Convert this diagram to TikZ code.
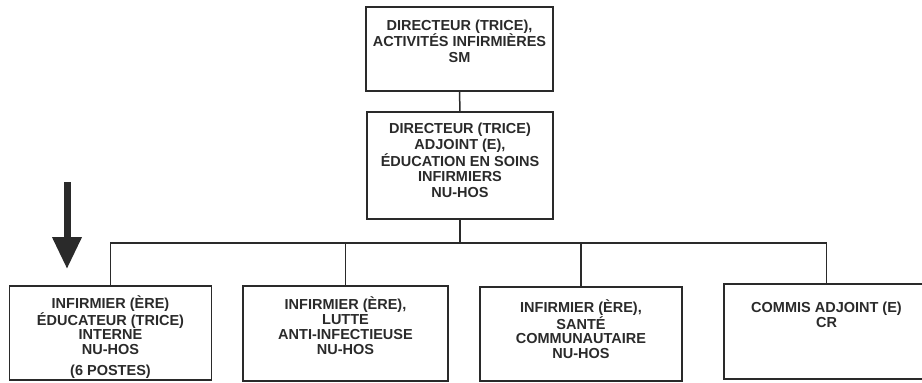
\documentclass[tikz,border=0pt]{standalone}
\usepackage{fontspec}
\setmainfont{Liberation Sans}
\usetikzlibrary{arrows.meta}
\definecolor{ink}{HTML}{2A2A2A}
\tikzset{
  box/.style={draw=ink, line width=1.5pt, rectangle, inner sep=0pt},
  txt/.style={anchor=north, align=center, inner sep=0pt, text=ink, font=\bfseries\fontsize{14.5}{#1}\selectfont},
  txt/.default=16,
  link/.style={draw=ink, line width=1.5pt},
}
\begin{document}
\begin{tikzpicture}[x=1pt,y=-1pt]
\useasboundingbox (0,0) rectangle (922,383);
% boxes
\node[box, minimum width=187pt, minimum height=84pt] (top) at (459.5,49) {};
\node[box, minimum width=186pt, minimum height=107pt] (mid) at (460,165.5) {};
\node[box, minimum width=202pt, minimum height=94pt] (b1) at (110.5,333) {};
\node[box, minimum width=205pt, minimum height=95pt] (b2) at (345.5,333.5) {};
\node[box, minimum width=202pt, minimum height=94pt] (b3) at (581,334) {};
\node[box, minimum width=205pt, minimum height=95pt] (b4) at (826.5,331.5) {};
% texts
\node[txt=16] (ttop) at ([yshift=-14pt]top.north) {DIRECTEUR (TRICE),\\ACTIVITÉS INFIRMIÈRES\\SM};
\node[txt=15.5] (tmid) at ([yshift=-12pt]mid.north) {DIRECTEUR (TRICE)\\ADJOINT (E),\\ÉDUCATION EN SOINS\\INFIRMIERS\\NU-HOS};
\node[txt=14.6] (tb1) at ([yshift=-10pt]b1.north) {INFIRMIER (ÈRE)\\ÉDUCATEUR (TRICE)\\INTERNE\\NU-HOS\\[7pt](6 POSTES)};
\node[txt=15] (tb2) at ([yshift=-11pt]b2.north) {INFIRMIER (ÈRE),\\LUTTE\\ANTI-INFECTIEUSE\\NU-HOS};
\node[txt=14.5] (tb3) at ([yshift=-13pt]b3.north) {INFIRMIER (ÈRE),\\SANTÉ\\COMMUNAUTAIRE\\NU-HOS};
\node[txt=15] (tb4) at ([yshift=-19pt]b4.north) {COMMIS ADJOINT (E)\\CR};
% connectors
\coordinate (busy) at (0,243);
\draw[link] (top.south) -- (mid.north);
\draw[link] (mid.south) -- (mid.south |- busy);
\draw[link] (b1.north) |- (b4.north |- busy) -- (b4.north);
\draw[link] (b2.north) -- (b2.north |- busy);
\draw[link] (b3.north) -- (b3.north |- busy);
% pointer arrow
\coordinate (arrtop) at (67,182);
\coordinate (arrtip) at (67,269);
\draw[draw=ink, line width=7pt, -{Triangle[width=28pt,length=32pt]}] (arrtop) -- (arrtip);
\end{tikzpicture}
\end{document}
